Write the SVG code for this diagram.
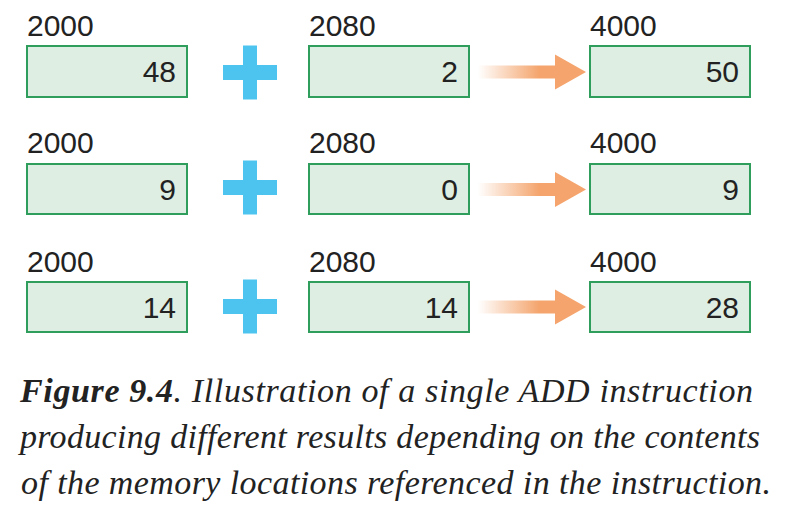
<svg xmlns="http://www.w3.org/2000/svg" width="788" height="517" viewBox="0 0 788 517">
<defs>
<style>
.box{fill:#deeee2;stroke:#2f9d5c;stroke-width:2}
.lbl{font-family:"Liberation Sans",Arial,sans-serif;font-size:30px;fill:#222}
.val{font-family:"Liberation Sans",Arial,sans-serif;font-size:30px;fill:#222;text-anchor:end}
.plus{fill:#4dc3ef}
.cap{font-family:"Liberation Serif","Times New Roman",serif;font-style:italic;font-size:34px;fill:#222}
</style>
<linearGradient id="ag" gradientUnits="userSpaceOnUse" x1="478" y1="0" x2="560" y2="0">
<stop offset="0" stop-color="#f4a46c" stop-opacity="0"/>
<stop offset="0.75" stop-color="#f4a46c" stop-opacity="1"/>
<stop offset="1" stop-color="#f4a46c" stop-opacity="1"/>
</linearGradient>
<path id="arrow" d="M478,-6.5 H555 V-17.5 L586,0 L555,17.5 V6.5 H478 Z"/>
<path id="plusShape" d="M243,-27 H257 V-7.5 H277 V7.5 H257 V27 H243 V7.5 H223 V-7.5 H243 Z"/>
</defs>
<rect width="788" height="517" fill="#fff"/>

<g id="connectors">
<use href="#arrow" transform="translate(0,72)" fill="url(#ag)"/>
<use href="#arrow" transform="translate(0,189.5)" fill="url(#ag)"/>
<use href="#arrow" transform="translate(0,307)" fill="url(#ag)"/>
</g>

<g id="row1">
<g id="r1-a"><text class="lbl" x="27" y="36">2000</text><rect class="box" x="27" y="46" width="160" height="51"/><text class="val" x="176" y="82">48</text></g>
<g id="r1-plus"><use href="#plusShape" class="plus" transform="translate(0,72.5)"/></g>
<g id="r1-b"><text class="lbl" x="309" y="36">2080</text><rect class="box" x="309" y="46" width="160" height="51"/><text class="val" x="458" y="82">2</text></g>
<g id="r1-c"><text class="lbl" x="590" y="36">4000</text><rect class="box" x="590" y="46" width="160" height="51"/><text class="val" x="739" y="82">50</text></g>
</g>

<g id="row2">
<g id="r2-a"><text class="lbl" x="27" y="153">2000</text><rect class="box" x="27" y="164" width="160" height="50"/><text class="val" x="176" y="200">9</text></g>
<g id="r2-plus"><use href="#plusShape" class="plus" transform="translate(0,187.5)"/></g>
<g id="r2-b"><text class="lbl" x="309" y="153">2080</text><rect class="box" x="309" y="164" width="160" height="50"/><text class="val" x="458" y="200">0</text></g>
<g id="r2-c"><text class="lbl" x="590" y="153">4000</text><rect class="box" x="590" y="164" width="160" height="50"/><text class="val" x="739" y="200">9</text></g>
</g>

<g id="row3">
<g id="r3-a"><text class="lbl" x="27" y="272">2000</text><rect class="box" x="27" y="282" width="160" height="50"/><text class="val" x="176" y="318">14</text></g>
<g id="r3-plus"><use href="#plusShape" class="plus" transform="translate(0,306.5)"/></g>
<g id="r3-b"><text class="lbl" x="309" y="272">2080</text><rect class="box" x="309" y="282" width="160" height="50"/><text class="val" x="458" y="318">14</text></g>
<g id="r3-c"><text class="lbl" x="590" y="272">4000</text><rect class="box" x="590" y="282" width="160" height="50"/><text class="val" x="739" y="318">28</text></g>
</g>

<g id="caption">
<text class="cap" x="20" y="402" textLength="733" lengthAdjust="spacing"><tspan font-weight="bold">Figure 9.4</tspan>. Illustration of a single ADD instruction</text>
<text class="cap" x="20" y="448" textLength="740" lengthAdjust="spacing">producing different results depending on the contents</text>
<text class="cap" x="21" y="494" textLength="750" lengthAdjust="spacing">of the memory locations referenced in the instruction.</text>
</g>
</svg>
